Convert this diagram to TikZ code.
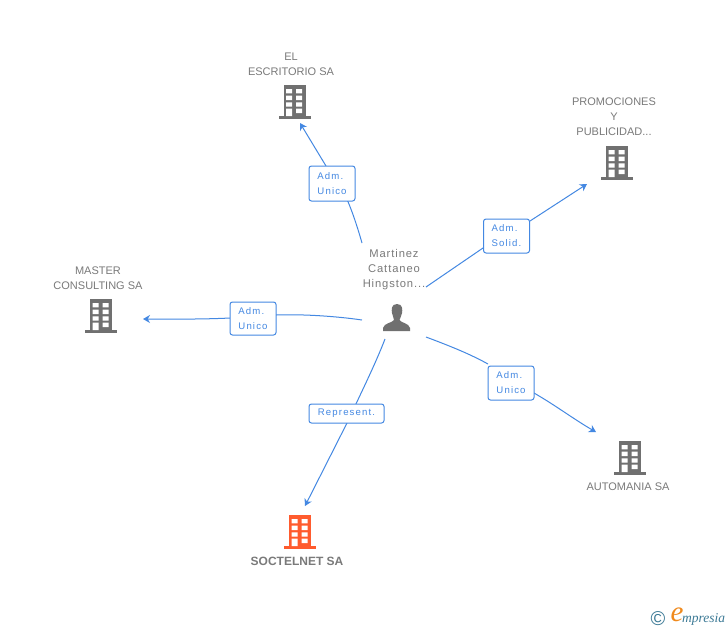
\documentclass[tikz,border=0pt]{standalone}
\usepackage{fontspec}
\setmainfont{Liberation Sans}
\newfontfamily\lblfont[LetterSpace=12]{Liberation Sans}
\newfontfamily\capfont[LetterSpace=8]{Liberation Sans}
\newfontfamily\logofont{Liberation Serif}
\definecolor{txtgrey}{HTML}{7A7A7A}
\definecolor{icongrey}{HTML}{707070}
\definecolor{linkblue}{HTML}{4488E2}
\definecolor{orangered}{HTML}{FF5B2E}
\definecolor{logoblue}{HTML}{3C7A96}
\definecolor{logoorange}{HTML}{F08A1D}
\usetikzlibrary{arrows.meta}
\tikzset{
  x=1pt,y=-1pt,
  caption/.style={text=txtgrey,align=center,inner sep=0pt,font=\fontsize{11}{15}\selectfont},
  tagbox/.style={draw=linkblue,line width=1pt,rounded corners=2.5pt,fill=white,text=linkblue,inner sep=0pt,font=\lblfont\fontsize{9.6}{15}\selectfont},
  link/.style={draw=linkblue,line width=1pt},
  arrowlink/.style={link,-{Stealth[length=7pt,width=8pt]}},
}
\newcommand{\bldg}[4]{% name, cx, top, colour
  \begin{scope}[shift={(#2,#3)}]
    \fill[#4] (-11,0) rectangle (11,31);
    \fill[#4] (-16,31) rectangle (16,34);
    \fill[white] (-8.5,4) rectangle (-2.5,8.3) (1.5,4) rectangle (7.5,8.3);
    \fill[white] (-8.5,10.7) rectangle (-2.5,15) (1.5,10.7) rectangle (7.5,15);
    \fill[white] (-8.5,17.3) rectangle (-2.5,21.7) (1.5,17.3) rectangle (7.5,21.7);
    \fill[white] (-8.5,23.5) rectangle (-2.5,31) (1.5,23.5) rectangle (7.5,28);
    \coordinate (#1) at (0,17);
  \end{scope}}
\begin{document}
\begin{tikzpicture}
\useasboundingbox (0,0) rectangle (728,630);
\fill[white] (0,0) rectangle (728,630);
% buildings
\bldg{escritorio}{294.5}{85}{icongrey}
\bldg{promociones}{617}{146}{icongrey}
\bldg{master}{101}{299}{icongrey}
\bldg{automania}{630}{441}{icongrey}
\bldg{soctelnet}{300}{515}{orangered}
% captions
\node[caption] (capesc) at (291,64) {EL\\ESCRITORIO SA};
\node[caption] (capprom) at (614,117) {PROMOCIONES\\Y\\PUBLICIDAD...};
\node[caption] (capmaster) at (98,278) {MASTER\\CONSULTING SA};
\node[caption] (capauto) at (628,487) {AUTOMANIA SA};
\node[caption,font=\bfseries\fontsize{12}{14}\selectfont] (capsoc) at (297,561) {SOCTELNET SA};
\node[caption,font=\capfont\fontsize{11.2}{15}\selectfont] (capperson) at (394,270) {Martinez\\Cattaneo\\Hingston...};
% person
\fill[icongrey] (397,304) .. controls (391,304) and (391.5,310) .. (392,313)
  .. controls (392.5,316) and (394,318) .. (394,320)
  .. controls (392,323) and (384,323) .. (383,328) -- (383,331) -- (410,331) -- (410,328)
  .. controls (409,323) and (401,323) .. (399.5,320)
  .. controls (400,318) and (401.5,316) .. (402,313)
  .. controls (402.5,310) and (403,304) .. (397,304) -- cycle;
\coordinate (person) at (397,318);
% free ends
\coordinate (s1) at (362,243); \coordinate (t1) at (300,123);
\coordinate (s2) at (426,287); \coordinate (t2) at (587,184);
\coordinate (s3) at (362,320); \coordinate (t3) at (143,319);
\coordinate (s4) at (426,337); \coordinate (t4) at (596,432);
\coordinate (s5) at (385,339); \coordinate (t5) at (305,506);
% connectors
\draw[link] (s1) .. controls (356,222) and (350,205) .. (344,193);
\draw[arrowlink] (326,166) -- (t1);
\draw[link] (s2) -- (483,248);
\draw[arrowlink] (530,221) -- (t2);
\draw[link] (s3) .. controls (335,316) and (300,314) .. (276,315);
\draw[arrowlink] (230,318) .. controls (200,319.5) and (170,319) .. (t3);
\draw[link] (s4) .. controls (450,346) and (470,354) .. (488,364);
\draw[arrowlink] (534,393) .. controls (555,405) and (575,420) .. (t4);
\draw[link] (s5) .. controls (375,365) and (360,395) .. (347,423);
\draw[arrowlink] (347,423) -- (t5);
% tags
\node[tagbox,minimum width=46pt,minimum height=35pt] (tag1) at (332,183.5) {\begin{tabular}{@{}l@{}}Adm.\\Unico\end{tabular}};
\node[tagbox,minimum width=46pt,minimum height=34pt] (tag2) at (506.5,236) {\begin{tabular}{@{}l@{}}Adm.\\Solid.\end{tabular}};
\node[tagbox,minimum width=46pt,minimum height=33pt] (tag3) at (253,318.5) {\begin{tabular}{@{}l@{}}Adm.\\Unico\end{tabular}};
\node[tagbox,minimum width=46pt,minimum height=34pt] (tag4) at (511,383) {\begin{tabular}{@{}l@{}}Adm.\\Unico\end{tabular}};
\node[tagbox,minimum width=75pt,minimum height=19pt] (tag5) at (346.5,413.5) {Represent.};
% logo
\node[text=logoblue,inner sep=0pt,font=\fontsize{20}{20}\selectfont] (logoc) at (658,619) {©};
\node[text=logoorange,inner sep=0pt,font=\logofont\itshape\fontsize{29}{29}\selectfont] (logoe) at (677,615) {e};
\node[text=logoblue,inner sep=0pt,anchor=west,font=\logofont\itshape\fontsize{13.5}{14}\selectfont] (logot) at (682,619) {mpresia};
\end{tikzpicture}
\end{document}
